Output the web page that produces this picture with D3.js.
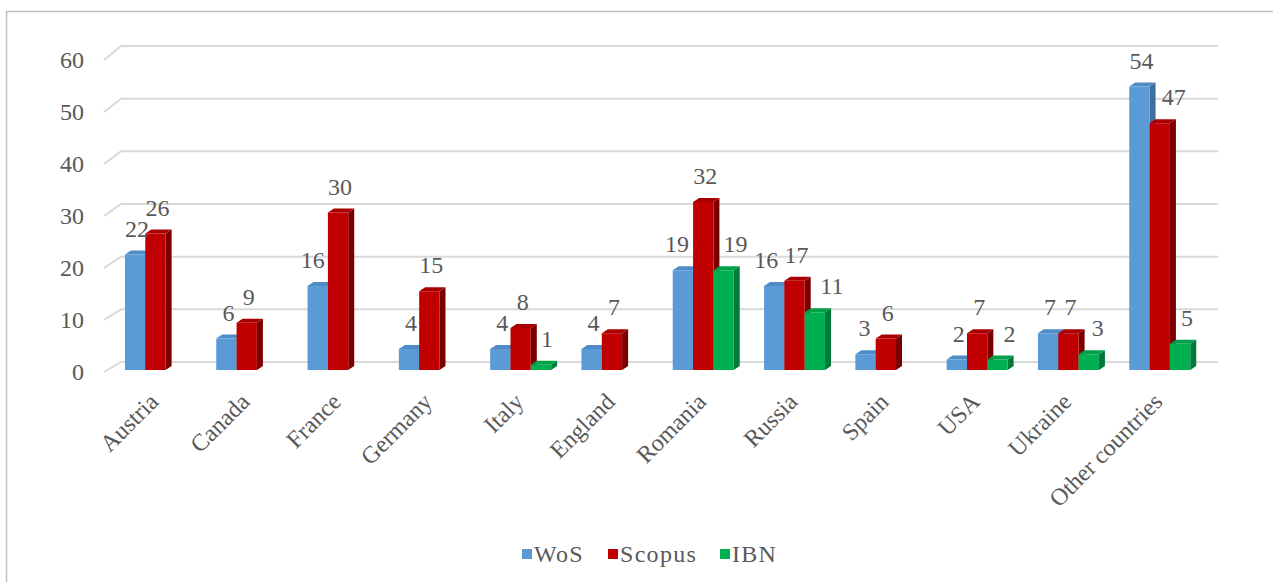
<!DOCTYPE html>
<html><head><meta charset="utf-8">
<script src="https://cdn.jsdelivr.net/npm/d3@7"></script>
<style>html,body{margin:0;padding:0;background:#fff;}svg{display:block;}</style>
</head><body>
<svg id="chart" width="1273" height="582"></svg>
<script>
const categories = ["Austria","Canada","France","Germany","Italy","England","Romania","Russia","Spain","USA","Ukraine","Other countries"];
const seriesNames = ["WoS","Scopus","IBN"];
const wos    = [22, 6, 16, 4, 4, 4, 19, 16, 3, 2, 7, 54];
const scopus = [26, 9, 30, 15, 8, 7, 32, 17, 6, 7, 7, 47];
const ibn    = [null, null, null, null, 1, null, 19, 11, null, 2, 3, 5];
const yTicks = [0, 10, 20, 30, 40, 50, 60];

// layout / style constants (not data)
const colors = {
  WoS:    {front:"#5B9BD5", top:"#4F8BC6", side:"#3F6F9E"},
  Scopus: {front:"#C00000", top:"#A80000", side:"#7A0000"},
  IBN:    {front:"#00B050", top:"#00A048", side:"#00793A"}
};
// horizontal label nudges (px) to mimic the original label placement
const labelNudge = {
  WoS:    [0,0,-7,0,0,0,-8,-10,-3,0,0,0],
  Scopus: [0,0,0,0,0,0,0,0,0,0,0,12],
  IBN:    [0,0,0,0,4,0,10,15,0,10,7,5]
};
const values = {WoS: wos, Scopus: scopus, IBN: ibn};

const svg = d3.select("#chart");
const font = "'Liberation Serif','Times New Roman',serif";
const textColor = "#595959";

// outer frame
svg.append("rect").attr("x",6.5).attr("y",11.5).attr("width",1300).attr("height",600)
  .attr("fill","none").attr("stroke","#BFBFBF").attr("stroke-width",1.5);

const x = d3.scaleBand().domain(categories).range([109.8, 1205.4]).paddingInner(0.332).paddingOuter(0.166);
const xs = d3.scaleBand().domain(seriesNames).range([0, x.bandwidth()]);
const y = d3.scaleLinear().domain([0,60]).range([370, 55]);        // bar front faces
const yBack = d3.scaleLinear().domain([0,60]).range([362, 46]);    // back wall gridlines
const yFront = d3.scaleLinear().domain([0,60]).range([372, 60]);   // front floor edge / tick labels
const backX0 = 121, backX1 = 1218, frontX0 = 104;
const DX = 6, DY = 4;

// gridlines
const grid = svg.append("g");
yTicks.forEach(t => {
  grid.append("path")
    .attr("d", `M${frontX0},${yFront(t)} L${backX0},${yBack(t)} L${backX1},${yBack(t)}`)
    .attr("fill","none").attr("stroke","#D9D9D9").attr("stroke-width",2);
});

// y axis labels
const yAxis = d3.axisLeft(yFront).tickValues(yTicks).tickSize(0).tickPadding(0);
const ya = svg.append("g").attr("transform","translate(84,0)").call(yAxis);
ya.select(".domain").remove();
ya.selectAll("text").attr("font-family",font).attr("font-size",24).attr("fill",textColor);

// bars
const barsG = svg.append("g");
const labelsG = svg.append("g");
categories.forEach((c,i) => {
  seriesNames.forEach(s => {
    const v = values[s][i];
    if (v === null || v === undefined) return;
    const x0 = x(c) + xs(s), w = xs.bandwidth();
    const yt = y(v), yb = y(0);
    const col = colors[s];
    const g = barsG.append("g");
    g.append("path").attr("d",`M${x0+w},${yt} L${x0+w+DX},${yt-DY} L${x0+w+DX},${yb-DY} L${x0+w},${yb} Z`).attr("fill",col.side);
    g.append("path").attr("d",`M${x0},${yt} L${x0+DX},${yt-DY} L${x0+w+DX},${yt-DY} L${x0+w},${yt} Z`).attr("fill",col.top);
    g.append("rect").attr("x",x0).attr("y",yt).attr("width",w).attr("height",yb-yt).attr("fill",col.front);
    labelsG.append("text")
      .attr("x", x0 + w/2 + 2 + labelNudge[s][i])
      .attr("y", yt - 18)
      .attr("text-anchor","middle")
      .attr("font-family",font).attr("font-size",24).attr("fill",textColor)
      .text(v);
  });
});

// category labels
const xa = svg.append("g");
categories.forEach(c => {
  const cx = x(c) + x.bandwidth()/2;
  xa.append("text")
    .attr("transform",`translate(${cx-8},${391}) rotate(-45)`)
    .attr("text-anchor","end").attr("dy","0.72em")
    .attr("font-family",font).attr("font-size",24).attr("fill",textColor)
    .text(c);
});

// legend
const leg = svg.append("g");
const legX = [522, 608, 720];
seriesNames.forEach((s,k) => {
  leg.append("rect").attr("x",legX[k]).attr("y",549).attr("width",10).attr("height",10).attr("fill",colors[s].front);
  leg.append("text").attr("x",legX[k]+12).attr("y",562)
    .attr("letter-spacing",1.3)
    .attr("font-family",font).attr("font-size",24).attr("fill",textColor).text(s);
});
</script>
</body></html>
